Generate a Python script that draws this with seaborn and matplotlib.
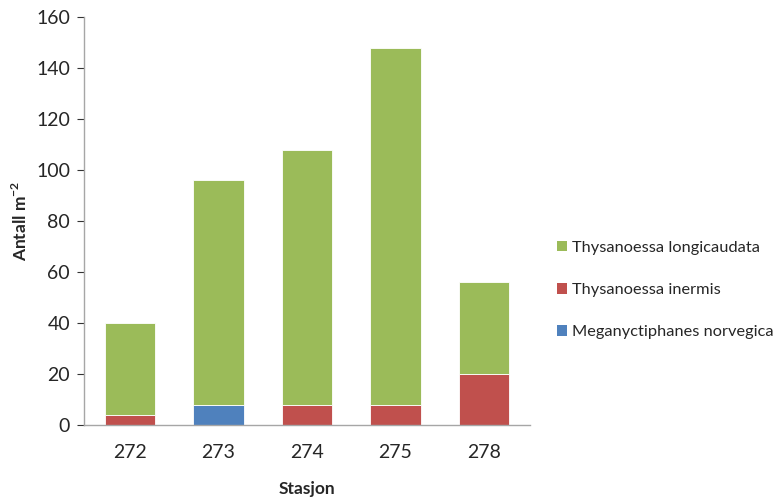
import matplotlib
matplotlib.use("Agg")
import matplotlib.pyplot as plt
import seaborn as sns
import pandas as pd
from matplotlib.patches import Patch

# Counts per station (individuals per m^2)
stations = ["272", "273", "274", "275", "278"]
meganyctiphanes = [0, 8, 0, 0, 0]
inermis = [4, 0, 8, 8, 20]
longicaudata = [36, 88, 100, 140, 36]

series_names = ["Meganyctiphanes norvegica", "Thysanoessa inermis", "Thysanoessa longicaudata"]
series_colors = ["#4F81BD", "#C0504D", "#9BBB59"]

df = pd.DataFrame({
    "Stasjon": stations,
    series_names[0]: meganyctiphanes,
    series_names[1]: inermis,
    series_names[2]: longicaudata,
})

sns.set_style("white")
plt.rcParams["font.family"] = ["Lato", "DejaVu Sans"]
plt.rcParams["mathtext.fontset"] = "custom"
plt.rcParams["mathtext.rm"] = "Lato"
plt.rcParams["mathtext.bf"] = "Lato:bold"

fig = plt.figure(figsize=(7.84, 4.97), dpi=100)
ax = fig.add_axes([0.107, 0.145, 0.569, 0.821])

bottom = [0] * len(stations)
for name, color in zip(series_names, series_colors):
    sns.barplot(data=df, x="Stasjon", y=name, order=stations, color=color,
                width=0.57, bottom=bottom, ax=ax, edgecolor="white",
                linewidth=0.6, saturation=1)
    bottom = [b + v for b, v in zip(bottom, df[name])]

ax.set_ylim(0, 160)
ax.set_xlim(-0.52, 4.52)
ax.set_yticks(range(0, 161, 20))
ax.tick_params(axis="y", labelsize=14, colors="#333333", length=5, width=0.8,
               direction="out", left=True, labelcolor="#262626", pad=5)
ax.tick_params(axis="x", labelsize=14, length=0, pad=14, labelcolor="#262626")
for side in ["top", "right"]:
    ax.spines[side].set_visible(False)
for side in ["left", "bottom"]:
    ax.spines[side].set_color("#A6A6A6")
    ax.spines[side].set_linewidth(1.0)

ax.set_xlabel("Stasjon", fontsize=12.5, fontweight="bold", labelpad=14)
ax.set_ylabel(r"Antall m$^{\mathbf{-2}}$", fontsize=12.5, fontweight="bold", labelpad=4)

handles = [Patch(facecolor=c, edgecolor="none") for c in series_colors[::-1]]
fig.legend(handles, series_names[::-1], loc="center left",
           bbox_to_anchor=(0.711, 0.416), frameon=False, fontsize=11.8,
           handlelength=0.6, handleheight=0.6, handletextpad=0.3,
           labelspacing=1.72, borderaxespad=0, borderpad=0)

fig.savefig("out.png", dpi=100)
